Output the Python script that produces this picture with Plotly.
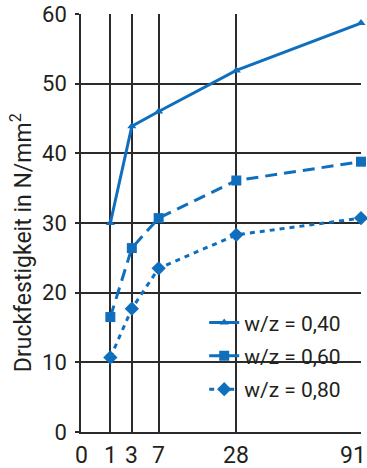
import numpy as np
import plotly.graph_objects as go

days = [1, 3, 7, 28, 91]
tick_days = [0, 1, 3, 7, 28, 91]
y_ticks = [0, 10, 20, 30, 40, 50, 60]
wz040 = [30.0, 43.9, 46.0, 51.9, 58.7]
wz060 = [16.5, 26.4, 30.7, 36.1, 38.8]
wz080 = [10.7, 17.7, 23.5, 28.3, 30.7]
names = ["w/z = 0,40", "w/z = 0,60", "w/z = 0,80"]

BLUE = "#0f6fbd"
FONT = "Roboto, sans-serif"
INK = "#231f20"
GRID = "#2b2b2b"

x = np.sqrt(days)

fig = go.Figure()
fig.add_trace(go.Scatter(x=x, y=wz040, name=names[0], mode="lines+markers",
                         legendgroup="a",
                         line=dict(color=BLUE, width=3),
                         marker=dict(symbol="triangle-up", size=8, color=BLUE),
                         cliponaxis=False))
fig.add_trace(go.Scatter(x=x, y=wz060, name=names[1], mode="lines+markers",
                         legendgroup="b",
                         line=dict(color=BLUE, width=3, dash="12px,7px"),
                         marker=dict(symbol="square", size=10, color=BLUE),
                         cliponaxis=False))
fig.add_trace(go.Scatter(x=x, y=wz080, name=names[2], mode="lines+markers",
                         legendgroup="c",
                         line=dict(color=BLUE, width=3, dash="5px,5px"),
                         marker=dict(symbol="diamond", size=11, color=BLUE),
                         cliponaxis=False))

fig.update_xaxes(range=[0, float(np.sqrt(91))], tickvals=np.sqrt(tick_days),
                 showticklabels=False, automargin=False,
                 showgrid=True, gridcolor=GRID, gridwidth=1.6,
                 showline=True, linecolor=GRID, linewidth=1.6,
                 ticks="", zeroline=False)
fig.update_yaxes(range=[0, 60], tickvals=y_ticks, automargin=False,
                 showgrid=True, gridcolor=GRID, gridwidth=1.6,
                 showline=True, linecolor=GRID, linewidth=1.6,
                 ticks="outside", ticklen=4, tickcolor=GRID, tickwidth=1.6,
                 ticklabelstandoff=4,
                 tickfont=dict(family=FONT, size=22, color=INK), zeroline=False)

# x tick labels as annotations (last one nudged inside the page)
for i, d in enumerate(tick_days):
    fig.add_annotation(text=str(d), x=float(np.sqrt(d)), y=0, xref="x", yref="y",
                       xanchor="center", yanchor="middle", yshift=-23,
                       xshift=-8 if i == len(tick_days) - 1 else 0,
                       showarrow=False, font=dict(family=FONT, size=23, color=INK))

fig.add_shape(type="rect", xref="paper", yref="paper",
              x0=0.389, x1=0.968, y0=0.034, y1=0.311,
              fillcolor="white", line=dict(width=0), layer="between")

fig.add_annotation(text="Druckfestigkeit in N/mm<sup>2</sup>", textangle=-90,
                   xref="paper", yref="paper", x=-0.214, y=0.452,
                   xanchor="center", yanchor="middle",
                   showarrow=False, font=dict(family=FONT, size=23, color=INK))

fig.update_layout(width=367, height=468,
                  margin=dict(l=81, r=6, t=14, b=36),
                  paper_bgcolor="white", plot_bgcolor="white",
                  showlegend=True,
                  legend=dict(x=0.44, y=0.31, xanchor="left", yanchor="top",
                              bgcolor="rgba(0,0,0,0)", borderwidth=0,
                              font=dict(family=FONT, size=21, color=INK),
                              itemwidth=30, tracegroupgap=3))

fig.write_html("out.html", config={"displayModeBar": False},
               post_script="document.body.style.margin='0';document.body.style.padding='0';")
